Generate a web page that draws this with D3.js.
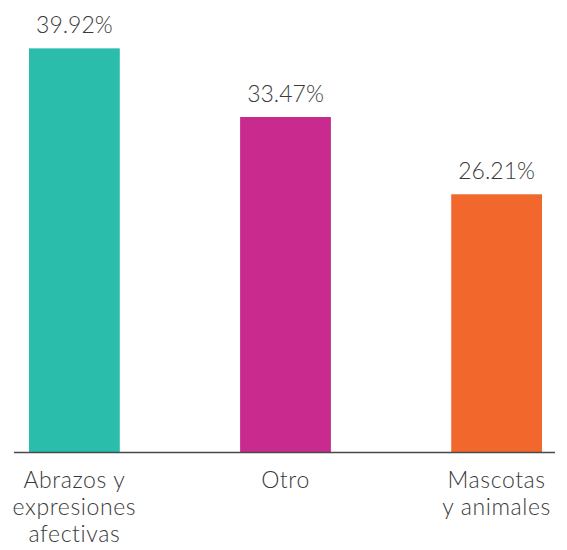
<!DOCTYPE html>
<html>
<head>
<meta charset="utf-8">
<script src="https://cdn.jsdelivr.net/npm/d3@7"></script>
<style>
  html, body { margin: 0; padding: 0; background: #fff; }
  .container { width: 567px; height: 550px; }
  text { font-family: Lato, 'Open Sans', sans-serif; font-weight: 300; fill: #3a3a3a; }
</style>
</head>
<body>
<div class="container"></div>
<script>
const categories = ['Abrazos y expresiones afectivas', 'Otro', 'Mascotas y animales']
const categoryLines = [['Abrazos y', 'expresiones', 'afectivas'], ['Otro'], ['Mascotas', 'y animales']]
const values = [39.92, 33.47, 26.21]
const colors = ['#2bbdac', '#c92a8e', '#f2682c']

document.addEventListener('DOMContentLoaded', function () {
  const container = document.querySelector('.container')
  const width = 567
  const height = 550
  const baseline = 452

  const svg = d3
    .select(container)
    .append('svg')
    .attr('width', width)
    .attr('height', height)

  const x = d3
    .scaleBand()
    .domain(categories)
    .range([29, 542])
    .paddingInner(0.57)
    .paddingOuter(0)

  const y = d3.scaleLinear().domain([2, 40]).range([baseline, 47.5])

  svg
    .selectAll('rect.bar')
    .data(values)
    .enter()
    .append('rect')
    .attr('class', 'bar')
    .attr('x', (d, i) => x(categories[i]))
    .attr('y', (d) => y(d))
    .attr('width', x.bandwidth())
    .attr('height', (d) => baseline - y(d))
    .attr('fill', (d, i) => colors[i])

  svg
    .selectAll('text.value')
    .data(values)
    .enter()
    .append('text')
    .attr('class', 'value')
    .attr('x', (d, i) => x(categories[i]) + x.bandwidth() / 2)
    .attr('y', (d) => y(d) - 15)
    .attr('text-anchor', 'middle')
    .attr('font-size', '23px')
    .text((d) => d3.format('.2f')(d) + '%')

  // baseline
  svg
    .append('line')
    .attr('x1', 14)
    .attr('x2', 555)
    .attr('y1', baseline + 0.5)
    .attr('y2', baseline + 0.5)
    .attr('stroke', '#4a4a4a')
    .attr('stroke-width', 1.5)

  const labels = svg
    .selectAll('text.cat')
    .data(categoryLines)
    .enter()
    .append('text')
    .attr('class', 'cat')
    .attr('text-anchor', 'middle')
    .attr('font-size', '23px')
    .attr('letter-spacing', '0.6px')
    .attr('transform', (d, i) => `translate(${x(categories[i]) + x.bandwidth() / 2},488)`)

  labels
    .selectAll('tspan')
    .data((d) => d)
    .enter()
    .append('tspan')
    .attr('x', 0)
    .attr('dy', (d, i) => (i === 0 ? 0 : 27))
    .text((d) => d)
})
</script>
</body>
</html>
